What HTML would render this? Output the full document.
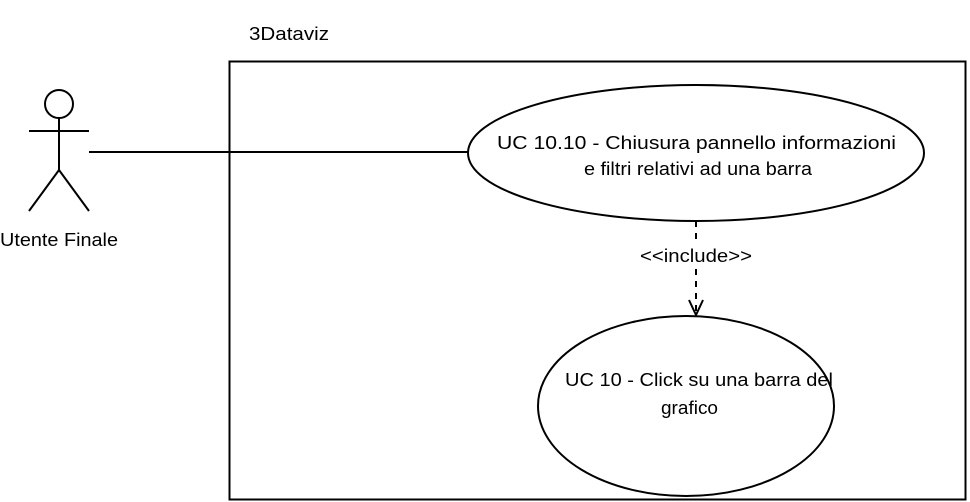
<!DOCTYPE html>
<html><head><meta charset="utf-8"><style>body{margin:0;background:#fff}svg{display:block}text{font-family:"Liberation Sans",Helvetica,sans-serif;font-size:18px;fill:#000}</style></head><body>
<svg width="970" height="502" viewBox="0 0 970 502">
<rect x="229.5" y="61.5" width="736" height="438" fill="#fff" stroke="#000" stroke-width="2"/>
<text x="249" y="40" textLength="80" lengthAdjust="spacingAndGlyphs">3Dataviz</text>
<circle cx="59" cy="104" r="14" fill="#fff" stroke="#000" stroke-width="2"/>
<line x1="59" y1="118" x2="59" y2="170" stroke="#000" stroke-width="2"/>
<line x1="29" y1="131" x2="89" y2="131" stroke="#000" stroke-width="2"/>
<line x1="59" y1="170" x2="29" y2="211" stroke="#000" stroke-width="2"/>
<line x1="59" y1="170" x2="89" y2="211" stroke="#000" stroke-width="2"/>
<text x="0" y="246" textLength="118" lengthAdjust="spacingAndGlyphs">Utente Finale</text>
<line x1="89" y1="152" x2="468" y2="152" stroke="#000" stroke-width="2"/>
<ellipse cx="696" cy="153" rx="228" ry="68" fill="#fff" stroke="#000" stroke-width="2"/>
<text x="497" y="149" textLength="399" lengthAdjust="spacingAndGlyphs">UC 10.10 - Chiusura pannello informazioni</text>
<text x="584" y="175" textLength="228" lengthAdjust="spacingAndGlyphs">e filtri relativi ad una barra</text>
<line x1="696" y1="221" x2="696" y2="314" stroke="#000" stroke-width="2" stroke-dasharray="6 6"/>
<polyline points="689,300 696,315 703,300" fill="none" stroke="#000" stroke-width="2"/>
<rect x="638" y="245" width="116" height="22" fill="#fff"/>
<text x="640" y="262" textLength="112" lengthAdjust="spacingAndGlyphs">&lt;&lt;include&gt;&gt;</text>
<ellipse cx="686" cy="406" rx="148" ry="90" fill="#fff" stroke="#000" stroke-width="2"/>
<text x="565" y="386" textLength="268" lengthAdjust="spacingAndGlyphs">UC 10 - Click su una barra del</text>
<text x="661" y="414" textLength="57" lengthAdjust="spacingAndGlyphs">grafico</text>
</svg>
</body></html>
